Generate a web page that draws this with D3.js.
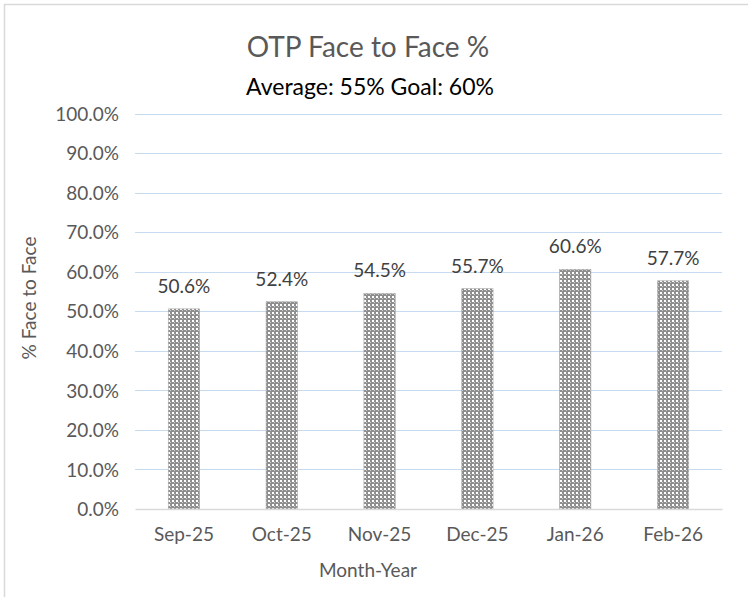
<!DOCTYPE html>
<html><head><meta charset="utf-8">
<script src="https://cdn.jsdelivr.net/npm/d3@7"></script>
<style>body{margin:0;background:#fff;}svg{display:block;}</style>
</head><body>
<script>
const categories = ["Sep-25","Oct-25","Nov-25","Dec-25","Jan-26","Feb-26"];
const values = [0.506,0.524,0.545,0.557,0.606,0.577];
const yTicks = [0,0.1,0.2,0.3,0.4,0.5,0.6,0.7,0.8,0.9,1.0];
const title = "OTP Face to Face %";
const subtitle = "Average: 55% Goal: 60%";
const xTitle = "Month-Year";
const yTitle = "% Face to Face";

const W=748,H=597;
const font="Lato, 'Open Sans', sans-serif";
const svg=d3.select("body").append("svg").attr("width",W).attr("height",H);
const defs=svg.append("defs");
const pat=defs.append("pattern").attr("id","dots").attr("patternUnits","userSpaceOnUse").attr("width",4).attr("height",4);
pat.append("rect").attr("width",4).attr("height",4).attr("fill","#8f8f8f");
pat.append("rect").attr("x",0).attr("y",0).attr("width",2).attr("height",2).attr("fill","#ffffff");
pat.append("rect").attr("x",2).attr("y",2).attr("width",1).attr("height",1).attr("fill","#d0d0d0");

// chart border
svg.append("rect").attr("x",4.5).attr("y",4.5).attr("width",W).attr("height",H).attr("fill","none").attr("stroke","#d9d9d9").attr("stroke-width",1.5);

const x=d3.scaleBand().domain(categories).range([135,722]).paddingInner(0.68).paddingOuter(0.34);
const y=d3.scaleLinear().domain([0,1]).range([509,113.5]);

// gridlines
svg.append("g").selectAll("line").data(yTicks.filter(d=>d>0)).join("line")
 .attr("x1",135).attr("x2",722).attr("y1",d=>Math.round(y(d))+0.5).attr("y2",d=>Math.round(y(d))+0.5)
 .attr("stroke","#c6dbef").attr("stroke-width",1);

// y axis labels
const yAxis=d3.axisLeft(y).tickValues(yTicks).tickFormat(d3.format(".1%")).tickSize(0).tickPadding(0);
const gy=svg.append("g").attr("transform","translate(119,0)").call(yAxis);
gy.select(".domain").remove();
gy.selectAll("text").attr("font-family",font).attr("font-size",19).attr("fill","#595959").attr("dy","0.35em");

// bars
svg.append("g").selectAll("rect").data(values).join("rect")
 .attr("x",(d,i)=>x(categories[i])).attr("width",x.bandwidth())
 .attr("y",d=>y(d)).attr("height",d=>y(0)-y(d))
 .attr("fill","url(#dots)").attr("stroke","#a6a6a6").attr("stroke-width",0.6);

// x axis
const xAxis=d3.axisBottom(x).tickSize(0).tickPadding(19);
const gx=svg.append("g").attr("transform","translate(0,509)").call(xAxis);
gx.select(".domain").attr("stroke","#d9d9d9").attr("stroke-width",1.5);
gx.selectAll("text").attr("font-family",font).attr("font-size",19).attr("fill","#595959");

// data labels
svg.append("g").selectAll("text").data(values).join("text")
 .attr("x",(d,i)=>x(categories[i])+x.bandwidth()/2).attr("y",d=>y(d)-16)
 .attr("text-anchor","middle").attr("font-family",font).attr("font-size",19).attr("fill","#404040")
 .text(d=>d3.format(".1%")(d));

// titles
svg.append("text").attr("x",368).attr("y",57).attr("text-anchor","middle").attr("font-family",font).attr("font-size",28).attr("fill","#595959").text(title);
svg.append("text").attr("x",370).attr("y",95).attr("text-anchor","middle").attr("font-family",font).attr("font-size",23).attr("fill","#000").text(subtitle);
svg.append("text").attr("x",368).attr("y",577).attr("text-anchor","middle").attr("font-family",font).attr("font-size",19).attr("fill","#595959").text(xTitle);
svg.append("text").attr("transform","translate(36,298) rotate(-90)").attr("text-anchor","middle").attr("font-family",font).attr("font-size",19).attr("fill","#595959").text(yTitle);
</script>
</body></html>
